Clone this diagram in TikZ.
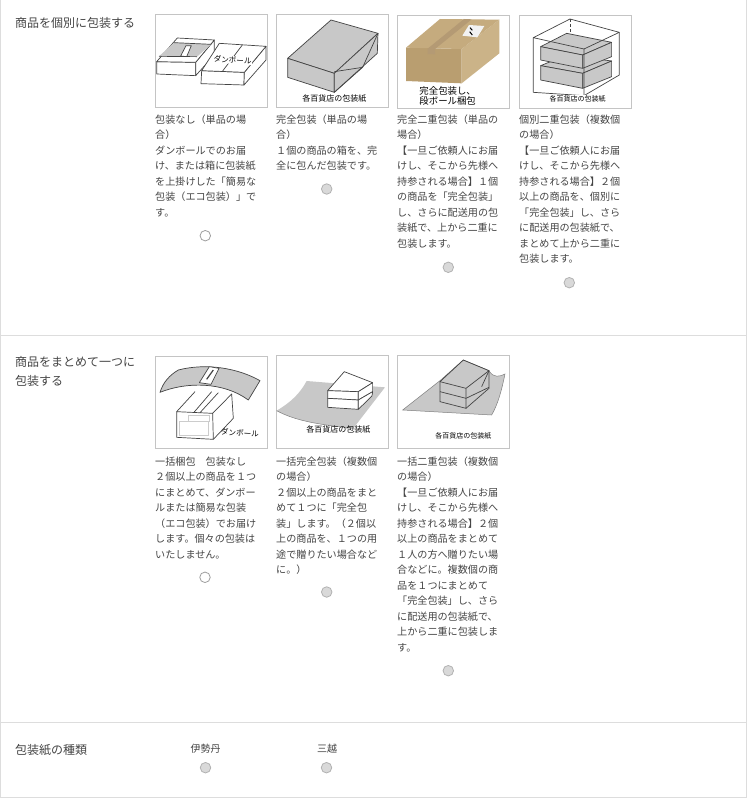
\documentclass[tikz,border=0pt]{standalone}
\usepackage{fontspec}
\newfontfamily\cjk{Noto Sans CJK JP}
\usepackage{xcolor}
\definecolor{inktext}{HTML}{444444}
\definecolor{rulegray}{HTML}{DDDDDD}
\definecolor{framegray}{HTML}{C4C4C4}
\definecolor{papergray}{HTML}{C8C8C8}
\definecolor{linkgray}{HTML}{444444}
\definecolor{cardfront}{HTML}{B99E70}
\definecolor{cardside}{HTML}{CBB388}
\definecolor{cardtop}{HTML}{C5AB7E}
\definecolor{cardtape}{HTML}{B49A74}
\tikzstyle{heading}=[anchor=north west,inner sep=0pt,align=left,text=inktext,font=\cjk\fontsize{12}{19}\selectfont]
\tikzstyle{descr}=[anchor=north west,inner sep=0pt,align=left,text=inktext,font=\cjk\fontsize{10.1}{15.5}\selectfont]
\tikzstyle{picframe}=[draw=framegray,fill=white,line width=.8pt]
\tikzstyle{radiooff}=[draw=gray!75,fill=white,line width=.8pt]
\tikzstyle{radiogray}=[draw=gray!60,fill=gray!30,line width=.8pt]
\tikzstyle{boxline}=[draw=linkgray,line width=.7pt,line join=round]
\tikzstyle{paper}=[boxline,fill=papergray]
\tikzstyle{caption}=[inner sep=0pt,text=black,font=\cjk\fontsize{7.6}{10}\selectfont]
\newcommand{\radioBtn}[3]{
	\node[circle,minimum size=10.5pt,inner sep=0pt,#1] (#2) at #3 {};
}
\begin{document}
\begin{tikzpicture}[x=1pt,y=-1pt]
	\useasboundingbox (0,0) rectangle (747,798);
	\fill[white] (0,0) rectangle (747,798);
	% table rules
	\draw[rulegray,line width=1pt] (.7,0) -- (.7,797) -- (746.3,797) -- (746.3,0);
	\draw[rulegray,line width=1pt] (0,335.5) -- (747,335.5);
	\draw[rulegray,line width=1pt] (0,722.5) -- (747,722.5);
	% row headings
	\node[heading] (rowsingle) at (15,17.5) {商品を個別に包装する};
	\node[heading] (rowgroup) at (15,356) {商品をまとめて一つに\\包装する};
	\node[heading] (rowpaper) at (15,744.5) {包装紙の種類};
	% picture frames
	\draw[picframe] (155,14.5) rectangle (267,107);
	\draw[picframe] (276.5,14.5) rectangle (388,107);
	\draw[picframe] (397.5,15) rectangle (509,108);
	\draw[picframe] (519.5,15) rectangle (631,108);
	\draw[picframe] (155,356) rectangle (267,448);
	\draw[picframe] (276.5,355) rectangle (388,448);
	\draw[picframe] (397.5,355) rectangle (509,448);
	% first picture, two open boxes
	\begin{scope}[shift={(150,5)},x=.3333pt,y=-.3333pt]
		\draw[boxline,fill=white] (20,170) -- (137,172) -- (137,212) -- (20,207) -- cycle;
		\draw[boxline,fill=white] (137,172) -- (193,105) -- (193,150) -- (137,212) -- cycle;
		\draw[boxline,fill=white] (20,170) -- (82,99) -- (193,105) -- (137,172) -- cycle;
		\fill[papergray] (27,154) -- (72,113) -- (184,118) -- (141,155) -- cycle;
		\draw[boxline,fill=white] (92,153) -- (108,122) -- (124,122) -- (110,155) -- cycle;
		\draw[boxline] (72,113) -- (184,118);
		\draw[boxline] (27,154) -- (141,155);
		\draw[boxline,fill=white] (155,197) -- (283,202) -- (282,240) -- (153,236) -- cycle;
		\draw[boxline,fill=white] (283,202) -- (348,124) -- (348,165) -- (282,240) -- cycle;
		\draw[boxline,fill=white] (155,197) -- (208,115) -- (348,124) -- (283,202) -- cycle;
		\draw[boxline] (277,120) -- (218,198);
		\node[caption,fill=white,inner sep=.5pt,rotate=-4] (boxlabela) at (248,165) {ダンボール};
	\end{scope}
	% second picture, wrapped box
	\begin{scope}[shift={(150,5)},x=.3333pt,y=-.3333pt]
		\draw[paper] (413,160) -- (543,45) -- (684,85) -- (553,205) -- cycle;
		\draw[paper] (413,160) -- (553,205) -- (553,262) -- (413,217) -- cycle;
		\draw[paper] (553,205) -- (684,85) -- (682,145) -- (553,262) -- cycle;
		\draw[boxline] (553,200) -- (638,187) -- (684,85);
		\draw[boxline] (638,187) -- (553,262);
		\node[caption,font=\cjk\fontsize{8}{10}\selectfont] (wraplabela) at (553,282) {各百貨店の包装紙};
	\end{scope}
	% third picture, cardboard box
	\begin{scope}[shift={(390,5)},x=.3333pt,y=-.3333pt]
		\fill[cardfront] (48,128) -- (215,132) -- (215,235) -- (48,228) -- cycle;
		\fill[cardside] (215,132) -- (328,44) -- (328,145) -- (215,235) -- cycle;
		\fill[cardtop] (48,128) -- (150,42) -- (328,44) -- (215,132) -- cycle;
		\fill[cardtape] (113,131) -- (135,132) -- (245,43) -- (222,42) -- cycle;
		\fill[cardtape] (113,131) -- (135,132) -- (135,148) -- (113,147) -- cycle;
		\fill[white!90!gray] (237,60) -- (283,63) -- (262,97) -- (217,92) -- cycle;
		\draw[black,line width=1pt] (240,68) -- (247,76);
		\draw[black,line width=1pt] (239,80) -- (247,90);
		\node[caption,font=\cjk\fontsize{9.4}{10.4}\selectfont,align=left] (boxlabelb) at (173,272) {完全包装し、\\段ボール梱包};
	\end{scope}
	% fourth picture, two boxes inside a wire box
	\begin{scope}[shift={(390,5)},x=.3333pt,y=-.3333pt]
		\draw[boxline,densely dashed] (540,42) -- (540,85);
		\draw[paper] (452,182) -- (530,150) -- (665,168) -- (578,205) -- cycle;
		\draw[paper] (452,182) -- (578,205) -- (578,250) -- (452,225) -- cycle;
		\draw[paper] (578,205) -- (665,168) -- (665,215) -- (578,250) -- cycle;
		\draw[paper] (452,125) -- (530,85) -- (665,112) -- (578,150) -- cycle;
		\draw[paper] (452,125) -- (578,150) -- (578,190) -- (452,165) -- cycle;
		\draw[paper] (578,150) -- (665,112) -- (665,155) -- (578,190) -- cycle;
		\draw[boxline] (430,98) -- (540,42) -- (688,82) -- (582,132) -- cycle;
		\draw[boxline] (430,98) -- (430,262) -- (582,272) -- (582,132);
		\draw[boxline] (688,82) -- (688,210) -- (582,272);
		\node[caption,fill=white,inner sep=1pt,font=\cjk\fontsize{7}{9}\selectfont] (wraplabelb) at (563,282) {各百貨店の包装紙};
	\end{scope}
	% fifth picture, open box under a curved sheet
	\begin{scope}[shift={(150,350)},x=.3333pt,y=-.3333pt]
		\draw[draw=gray!40,line width=.5pt] (88,215) rectangle (175,255);
		\draw[draw=gray!40,line width=.5pt] (115,195) -- (115,215) (178,195) -- (178,215) (115,195) -- (178,195);
		\draw[boxline] (80,185) -- (188,190) -- (190,268) -- (80,262) -- cycle;
		\draw[boxline] (190,268) -- (250,205) -- (245,132) -- (188,190);
		\draw[boxline] (80,185) -- (135,125);
		\draw[boxline] (132,187) -- (185,125);
		\draw[boxline] (150,188) -- (205,128);
		\draw[paper] (30,127) .. controls (40,95) and (60,75) .. (85,60) .. controls (170,38) and (265,55) .. (330,92) -- (295,150) .. controls (220,95) and (110,95) .. (30,127) -- cycle;
		\draw[boxline,fill=white] (148,98) -- (183,103) -- (207,55) -- (178,50) -- cycle;
		\draw[linkgray,line width=1.2pt] (170,88) -- (190,60);
		\node[caption,rotate=-3] (boxlabelc) at (270,249) {ダンボール};
	\end{scope}
	% sixth picture, stacked boxes on a sheet
	\begin{scope}[shift={(150,350)},x=.3333pt,y=-.3333pt]
		\fill[papergray] (380,182) .. controls (425,155) and (450,130) .. (470,93) -- (705,112) -- (610,235) .. controls (520,225) and (440,215) .. (380,182) -- cycle;
		\draw[gray,line width=.5pt] (380,182) .. controls (440,215) and (520,225) .. (610,235);
		\draw[boxline,fill=white] (533,122) -- (583,65) -- (668,98) -- (625,125) -- cycle;
		\draw[boxline,fill=white] (533,122) -- (625,125) -- (625,150) -- (533,145) -- cycle;
		\draw[boxline,fill=white] (625,125) -- (668,98) -- (668,125) -- (625,150) -- cycle;
		\draw[boxline,fill=white] (533,145) -- (625,150) -- (625,178) -- (533,172) -- cycle;
		\draw[boxline,fill=white] (625,150) -- (668,125) -- (666,138) -- (625,178) -- cycle;
		\node[caption,font=\cjk\fontsize{8}{10}\selectfont] (wraplabelc) at (565,240) {各百貨店の包装紙};
	\end{scope}
	% seventh picture, wire box on a sheet
	\begin{scope}[shift={(390,350)},x=.3333pt,y=-.3333pt]
		\draw[gray,line width=.5pt,fill=papergray] (38,180) -- (150,92) -- (220,30) -- (297,62) .. controls (310,85) and (330,80) .. (345,72) .. controls (335,120) and (325,160) .. (305,195) -- cycle;
		\draw[boxline] (150,95) -- (220,30) -- (297,62) -- (228,115) -- cycle;
		\draw[boxline] (150,95) -- (150,155) -- (228,175) -- (228,115);
		\draw[boxline] (150,125) -- (228,145) -- (297,112);
		\draw[boxline] (297,62) -- (297,115) -- (228,175);
		\draw[boxline] (297,62) -- (275,110);
		\node[caption,font=\cjk\fontsize{7}{9}\selectfont] (wraplabeld) at (220,258) {各百貨店の包装紙};
	\end{scope}
	% descriptions
	\node[descr] (descsingle) at (155,114.5) {包装なし（単品の場\\合）\\ダンボールでのお届\\け、または箱に包装紙\\を上掛けした「簡易な\\包装（エコ包装）」で\\す。};
	\node[descr] (descfull) at (276,114.5) {完全包装（単品の場\\合）\\１個の商品の箱を、完\\全に包んだ包装です。};
	\node[descr] (descdouble) at (397,114.5) {完全二重包装（単品の\\場合）\\【一旦ご依頼人にお届\\けし、そこから先様へ\\持参される場合】１個\\の商品を「完全包装」\\し、さらに配送用の包\\装紙で、上から二重に\\包装します。};
	\node[descr] (descmulti) at (519,114.5) {個別二重包装（複数個\\の場合）\\【一旦ご依頼人にお届\\けし、そこから先様へ\\持参される場合】２個\\以上の商品を、個別に\\「完全包装」し、さら\\に配送用の包装紙で、\\まとめて上から二重に\\包装します。};
	\node[descr] (descbundle) at (155,456.5) {一括梱包　包装なし\\２個以上の商品を１つ\\にまとめて、ダンボー\\ルまたは簡易な包装\\（エコ包装）でお届け\\します。個々の包装は\\いたしません。};
	\node[descr] (descbundlefull) at (276,456.5) {一括完全包装（複数個\\の場合）\\２個以上の商品をまと\\めて１つに「完全包\\装」します。（２個以\\上の商品を、１つの用\\途で贈りたい場合など\\に。）};
	\node[descr] (descbundledouble) at (397,456.5) {一括二重包装（複数個\\の場合）\\【一旦ご依頼人にお届\\けし、そこから先様へ\\持参される場合】２個\\以上の商品をまとめて\\１人の方へ贈りたい場\\合などに。複数個の商\\品を１つにまとめて\\「完全包装」し、さら\\に配送用の包装紙で、\\上から二重に包装しま\\す。};
	% paper choice
	\node[inner sep=0pt,text=inktext,font=\cjk\fontsize{10}{12}\selectfont] (isetan) at (205.5,748.5) {伊勢丹};
	\node[inner sep=0pt,text=inktext,font=\cjk\fontsize{10}{12}\selectfont] (mitsukoshi) at (327,748.5) {三越};
	% radio buttons
	\radioBtn{radiooff}{choicea}{(205.3,235.7)}
	\radioBtn{radiogray}{choiceb}{(326.7,189)}
	\radioBtn{radiogray}{choicec}{(448.3,267.3)}
	\radioBtn{radiogray}{choiced}{(569.3,282.7)}
	\radioBtn{radiooff}{choicee}{(205,577.3)}
	\radioBtn{radiogray}{choicef}{(326.7,592)}
	\radioBtn{radiogray}{choiceg}{(448.3,670.7)}
	\radioBtn{radiogray}{choiceh}{(205.5,767.7)}
	\radioBtn{radiogray}{choicei}{(326.5,767.7)}
\end{tikzpicture}
\end{document}
